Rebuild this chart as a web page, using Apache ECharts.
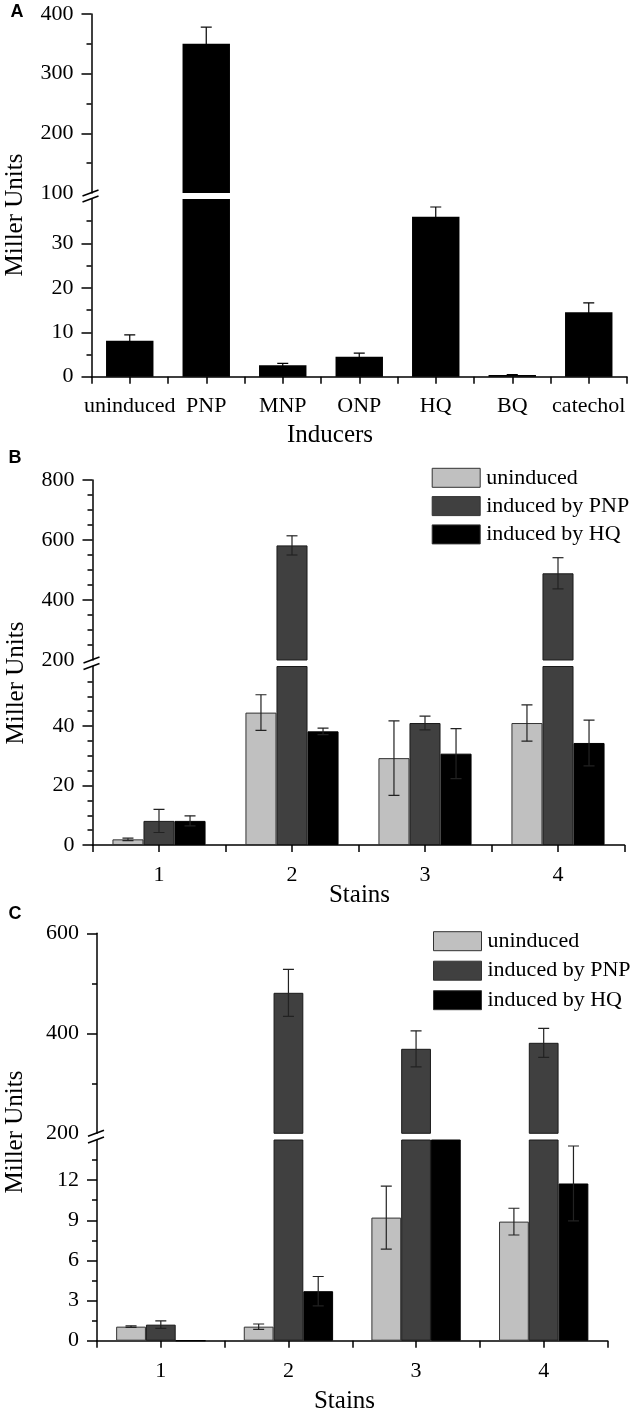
<!DOCTYPE html>
<html><head><meta charset="utf-8">
<script src="https://cdn.jsdelivr.net/npm/echarts@6/dist/echarts.min.js"></script>
<style>html,body{margin:0;padding:0;background:#fff}#c{width:630px;height:1415px}</style>
</head><body><div id="c"></div>
<script>
// ---------- data ----------
// Panel A
const inducers = ['uninduced', 'PNP', 'MNP', 'ONP', 'HQ', 'BQ', 'catechol'];
const aValues = [8.1, 350, 2.6, 4.5, 36.0, 0.4, 14.5];
const aErrors = [1.3, 28, 0.4, 0.8, 2.2, 0.1, 2.1];
// Panels B and C
const stains = ['1', '2', '3', '4'];
const seriesNames = ['uninduced', 'induced by PNP', 'induced by HQ'];
const bUninduced = [1.9, 44.5, 29.2, 41.0];
const bUninducedErr = [0.4, 6.0, 12.5, 6.1];
const bPNP = [8.1, 582, 41.0, 489];
const bPNPErr = [3.9, 32, 2.3, 52];
const bHQ = [8.1, 38.2, 30.7, 34.3];
const bHQErr = [1.7, 1.1, 8.4, 7.7];
const cUninduced = [1.05, 1.05, 9.2, 8.9];
const cUninducedErr = [0.06, 0.2, 2.35, 1.0];
const cPNP = [1.2, 481, 369, 381];
const cPNPErr = [0.28, 47, 36, 29];
const cHQ = [0, 3.7, 19, 11.75];
const cHQErr = [0, 1.1, 2.0, 2.8];
// axis ranges [min, max, interval] and tick labels
const aUpperRange = [100, 400, 100], aLowerRange = [0, 40, 10];
const bUpperRange = [200, 800, 200], bLowerRange = [0, 60, 20];
const cUpperRange = [200, 600, 200], cLowerRange = [0, 15, 3];
const aUpperLabels = [100, 200, 300, 400], aLowerLabels = [0, 10, 20, 30];
const bUpperLabels = [200, 400, 600, 800], bLowerLabels = [0, 20, 40];
const cUpperLabels = [200, 400, 600], cLowerLabels = [0, 3, 6, 9, 12];
const yTitle = 'Miller Units';
const xTitles = ['Inducers', 'Stains', 'Stains'];
const panelLetters = ['A', 'B', 'C'];

// ---------- layout / style ----------
const SERIF = '"Liberation Serif","Times New Roman",serif';
const SANS = '"Liberation Sans",Arial,sans-serif';
const L = [
  {left: 91.5, right: 3, upTop: 14, upH: 179, loTop: 199, loH: 177.7, lblMargin: 19, minorUp: 2, minorLo: 2},
  {left: 92.5, right: 5.5, upTop: 480, upH: 180, loTop: 666.5, loH: 178.5, lblMargin: 19.5, minorUp: 4, minorLo: 4},
  {left: 97, right: 22.5, upTop: 933.3, upH: 200, loTop: 1140, loH: 200.7, lblMargin: 20, minorUp: 2, minorLo: 2}
];
const barColors = ['#c0c0c0', '#404040', '#000000'];
const barBorders = ['#333333', '#1a1a1a', '#000000'];

const chart = echarts.init(document.getElementById('c'), null, {renderer: 'canvas'});

const grids = [], xAxes = [], yAxes = [], series = [];

function yAx(gi, range, labels, minorSplit, tickVals) {
  return {
    type: 'value', gridIndex: gi, min: range[0], max: range[1], interval: range[2],
    axisLine: {show: true, lineStyle: {color: '#000', width: 1.5}},
    axisTick: {show: true, inside: false, length: 10, customValues: tickVals, lineStyle: {color: '#000', width: 1.5}},
    minorTick: {show: true, splitNumber: minorSplit, length: 5, lineStyle: {color: '#000', width: 1.5}},
    axisLabel: {customValues: labels, margin: 18, color: '#000', fontSize: 22, fontFamily: SERIF},
    splitLine: {show: false}, minorSplitLine: {show: false}
  };
}
function xAxHidden(gi, cats) {
  return {type: 'category', gridIndex: gi, data: cats, show: false, position: 'bottom'};
}
function xAxMain(gi, cats, margin) {
  return {
    type: 'category', gridIndex: gi, data: cats, position: 'bottom',
    axisLine: {show: true, onZero: false, lineStyle: {color: '#000', width: 1.5}},
    axisTick: {show: true, alignWithLabel: false, length: 7, lineStyle: {color: '#000', width: 1.5}},
    axisLabel: {interval: 0, margin: margin, color: '#000', fontSize: 22, fontFamily: SERIF},
    splitLine: {show: false}
  };
}
function xAxCenter(gi, cats) {
  return {
    type: 'category', gridIndex: gi, data: cats, position: 'bottom',
    axisLine: {show: false, onZero: false},
    axisTick: {show: true, alignWithLabel: true, length: 7, lineStyle: {color: '#000', width: 1.5}},
    axisLabel: {show: false}, splitLine: {show: false}
  };
}
function barS(name, xi, yi, data, k, single) {
  return {
    type: 'bar', name: name, xAxisIndex: xi, yAxisIndex: yi, data: data, clip: true, z: 2,
    barGap: '0%', barCategoryGap: single ? '38%' : '30%',
    itemStyle: single ? {color: '#000'} : {color: barColors[k], borderColor: barBorders[k], borderWidth: 1},
    emphasis: {disabled: true}, silent: true
  };
}
function errS(xi, yi, vals, errs, k, n, frac, color) {
  return {
    type: 'custom', xAxisIndex: xi, yAxisIndex: yi, clip: true, z: 5, silent: true,
    encode: {x: 0, y: 1},
    data: vals.map((v, i) => [i, v, errs[i]]),
    renderItem: function (params, api) {
      const e = api.value(2);
      if (!(e > 0)) return null;
      const i = api.value(0), v = api.value(1);
      const band = api.size([1, 0])[0];
      const bw = band * frac / n;
      const dx = (k - (n - 1) / 2) * bw;
      const top = api.coord([i, v + e]), bot = api.coord([i, v - e]);
      const x = top[0] + dx, cap = 5.5;
      const st = {stroke: color, lineWidth: 1.2};
      return {type: 'group', children: [
        {type: 'line', shape: {x1: x, y1: top[1], x2: x, y2: bot[1]}, style: st},
        {type: 'line', shape: {x1: x - cap, y1: top[1], x2: x + cap, y2: top[1]}, style: st},
        {type: 'line', shape: {x1: x - cap, y1: bot[1], x2: x + cap, y2: bot[1]}, style: st}
      ]};
    }
  };
}

const panelDefs = [
  {cats: inducers, up: aUpperRange, lo: aLowerRange, upLbl: aUpperLabels, loLbl: aLowerLabels,
   sets: [[aValues, aErrors]], single: true},
  {cats: stains, up: bUpperRange, lo: bLowerRange, upLbl: bUpperLabels, loLbl: bLowerLabels,
   sets: [[bUninduced, bUninducedErr], [bPNP, bPNPErr], [bHQ, bHQErr]], single: false},
  {cats: stains, up: cUpperRange, lo: cLowerRange, upLbl: cUpperLabels, loLbl: cLowerLabels,
   sets: [[cUninduced, cUninducedErr], [cPNP, cPNPErr], [cHQ, cHQErr]], single: false}
];

panelDefs.forEach((pd, p) => {
  const l = L[p];
  grids.push({left: l.left, right: l.right, top: l.upTop, height: l.upH, outerBoundsMode: 'none', containLabel: false});
  grids.push({left: l.left, right: l.right, top: l.loTop, height: l.loH, outerBoundsMode: 'none', containLabel: false});
  const gU = 2 * p, gL = 2 * p + 1;
  const xU = xAxes.length; xAxes.push(xAxHidden(gU, pd.cats));
  const xL = xAxes.length; xAxes.push(xAxMain(gL, pd.cats, l.lblMargin));
  xAxes.push(xAxCenter(gL, pd.cats));
  const yU = yAxes.length; yAxes.push(yAx(gU, pd.up, pd.upLbl, l.minorUp, pd.upLbl.slice(1)));
  const yL = yAxes.length; yAxes.push(yAx(gL, pd.lo, pd.loLbl, l.minorLo, pd.loLbl));
  const n = pd.sets.length;
  const frac = pd.single ? 0.62 : 0.70;
  pd.sets.forEach((s, k) => {
    const name = pd.single ? 'Inducers' : seriesNames[k];
    series.push(barS(name, xU, yU, s[0], k, pd.single));
    series.push(barS(name, xL, yL, s[0], k, pd.single));
  });
  pd.sets.forEach((s, k) => {
    const col = pd.single ? '#000' : '#222';
    series.push(errS(xU, yU, s[0], s[1], k, n, frac, col));
    series.push(errS(xL, yL, s[0], s[1], k, n, frac, col));
  });
});

function legendAt(left, top, gap) {
  return {
    data: seriesNames, orient: 'vertical', left: left, top: top, padding: 0,
    itemWidth: 48, itemHeight: 19, itemGap: gap, icon: 'rect', selectedMode: false,
    itemStyle: {borderColor: '#333', borderWidth: 1},
    textStyle: {fontSize: 22, fontFamily: SERIF, color: '#000', lineHeight: 20, padding: [0, 0, 0, 1]}
  };
}

const graphic = [];
const letterPos = [[17, 12], [15, 458], [15, 914]];
panelLetters.forEach((t, p) => graphic.push({type: 'text', x: letterPos[p][0], y: letterPos[p][1],
  style: {text: t, fontSize: 18, fontWeight: 'bold', fontFamily: SANS, fill: '#000', align: 'center', verticalAlign: 'middle'}}));
const yTitlePos = [[15, 215], [16, 683], [15, 1132]];
yTitlePos.forEach(pos => graphic.push({type: 'text', x: pos[0], y: pos[1], rotation: Math.PI / 2,
  style: {text: yTitle, fontSize: 25, fontFamily: SERIF, fill: '#000', align: 'center', verticalAlign: 'middle'}}));
const xTitlePos = [[330, 435], [359.5, 895], [344.5, 1401]];
xTitles.forEach((t, p) => graphic.push({type: 'text', x: xTitlePos[p][0], y: xTitlePos[p][1],
  style: {text: t, fontSize: 25, fontFamily: SERIF, fill: '#000', align: 'center', verticalAlign: 'middle'}}));
// axis-break marks derived from grid layout
L.forEach(l => {
  const x = l.left;
  [l.upTop + l.upH, l.loTop].forEach(y => graphic.push({type: 'line', z: 10,
    shape: {x1: x - 9, y1: y + 3, x2: x + 7, y2: y - 3}, style: {stroke: '#000', lineWidth: 1.5}}));
});

chart.setOption({
  animation: false,
  backgroundColor: '#fff',
  textStyle: {fontFamily: SERIF},
  grid: grids, xAxis: xAxes, yAxis: yAxes, series: series,
  legend: [legendAt(431.7, 466.8, 6.3), legendAt(433, 930.2, 7.5)],
  graphic: graphic
});
</script></body></html>
